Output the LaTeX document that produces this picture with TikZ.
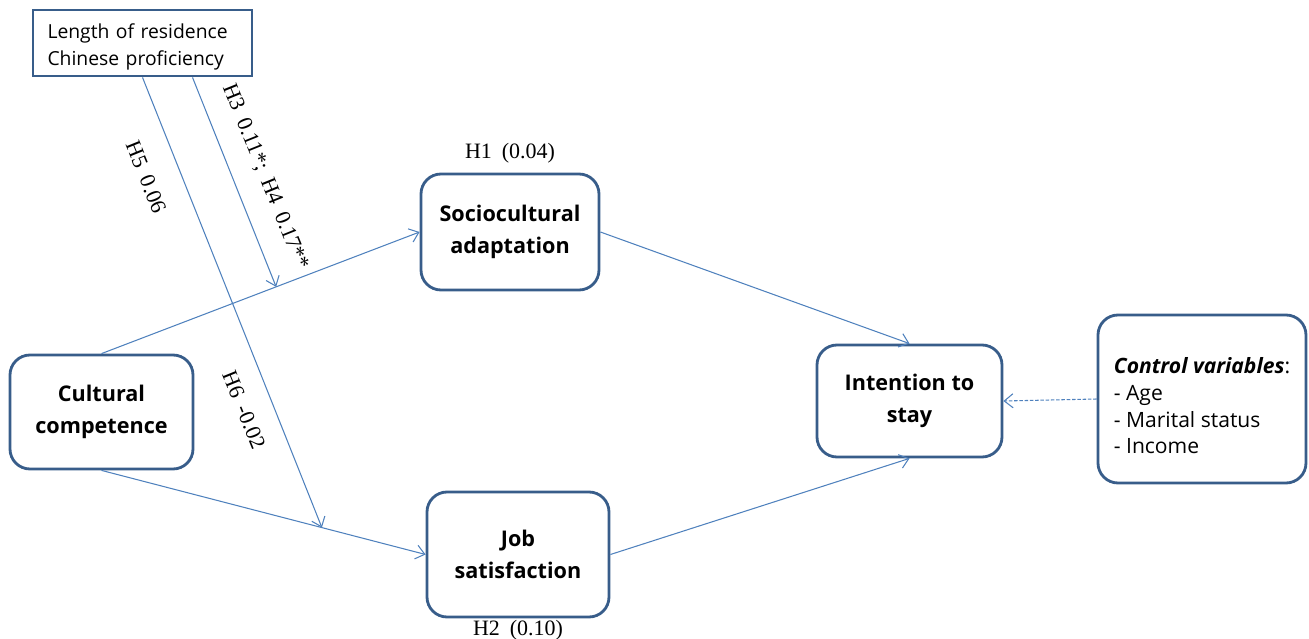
\documentclass[tikz,border=0pt]{standalone}
\usepackage{fontspec}
\setmainfont{Liberation Serif}
\newfontfamily\boxfont{Open Sans}
\usetikzlibrary{arrows.meta,calc}
\definecolor{boxblue}{HTML}{385D8A}
\definecolor{arrowblue}{HTML}{4F81BD}
\newcommand{\gapsp}{\hspace{0.45em}}
\begin{document}
\begin{tikzpicture}[x=0.02cm,y=-0.02cm,
  stdbox/.style={draw=boxblue,line width=1.6pt,rounded corners=0.4cm,fill=white,
    align=center,font=\boxfont\bfseries\fontsize{12.3}{18}\selectfont,inner sep=0pt},
  modbox/.style={draw=boxblue,line width=1.6pt,fill=white,align=left,
    font=\boxfont\fontsize{11}{15.5}\selectfont,inner sep=0pt},
  link/.style={draw=arrowblue,line width=0.6pt,-{Straight Barb[length=5pt,width=8pt]}},
  dlink/.style={link,dash pattern=on 2pt off 1pt},
  lbl/.style={font=\fontsize{12.5}{14}\selectfont,inner sep=0pt},
  rlbl/.style={lbl,rotate=-68}]
\useasboundingbox (0,0) rectangle (1309,639);

\node[modbox,minimum width=219*0.02cm,minimum height=66*0.02cm,text width=190*0.02cm] (mod) at (142.5,43) {\rule{0pt}{12.5pt}Length of residence\\Chinese proficiency};
\node[stdbox,minimum width=178*0.02cm,minimum height=116*0.02cm] (sca) at (510,232) {Sociocultural\\adaptation};
\node[stdbox,minimum width=183*0.02cm,minimum height=114*0.02cm] (cc) at (101.5,412) {Cultural\\competence};
\node[stdbox,minimum width=182*0.02cm,minimum height=125*0.02cm] (js) at (518,554.5) {Job\\satisfaction};
\node[stdbox,minimum width=185*0.02cm,minimum height=112*0.02cm] (its) at (909.5,401) {Intention to\\stay};
\node[stdbox,minimum width=208*0.02cm,minimum height=168*0.02cm,align=left,
  font=\boxfont\fontsize{12}{15.2}\selectfont] (ctrl) at (1202,399)
  {\rule{0pt}{17pt}\textbf{\textit{Control variables}}:\\- Age\\- Marital status\\- Income};

\draw[link] (cc.north) -- (sca.west);
\draw[link] (cc.south) -- (js.west);
\draw[link] (sca.east) -- (its.north);
\draw[link] (js.east) -- (its.south);
\draw[dlink] (ctrl.west) -- (its.east);

\coordinate (m1) at ($(mod.south)+(50,0)$);
\coordinate (t1) at ($(cc.north)!0.549!(sca.west)$);
\coordinate (t2) at ($(cc.south)!0.68!(js.west)$);
\draw[link] (m1) -- (t1);
\draw[link] (mod.south) -- (t2);

\node[lbl] (h1) at (510,153) {H1\gapsp(0.04)};
\node[lbl] (h2) at (518,630) {H2\gapsp(0.10)};
\node[rlbl] (h34) at (265,177) {H3\gapsp0.11*;\gapsp H4\gapsp0.17**};
\node[rlbl] (h5) at (146,177) {H5\gapsp0.06};
\node[rlbl] (h6) at (244,410) {H6\gapsp-0.02};
\end{tikzpicture}
\end{document}
